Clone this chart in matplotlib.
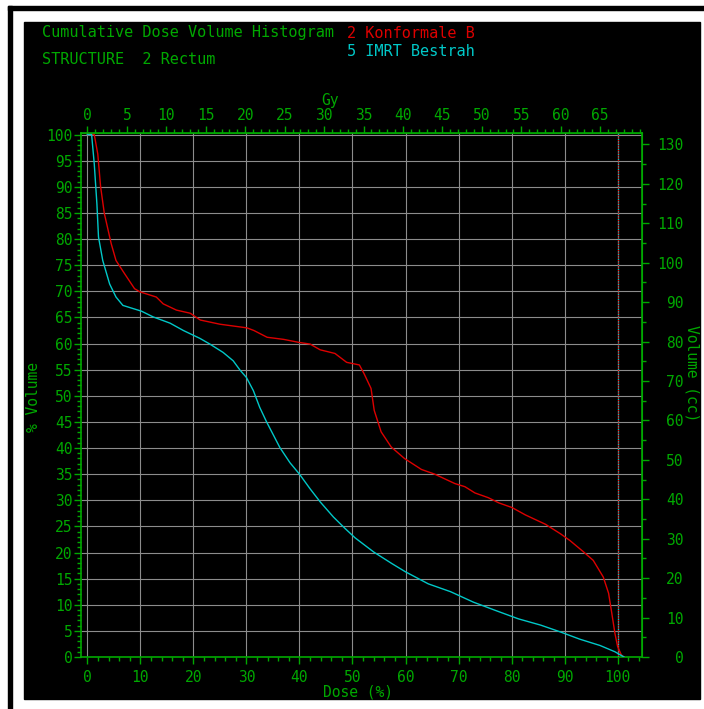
import numpy as np
import matplotlib
matplotlib.use("Agg")
import matplotlib.pyplot as plt
from matplotlib.patches import Rectangle
from matplotlib.ticker import MultipleLocator

plt.rcParams['font.family'] = ['DejaVu Sans Mono']

# Konformale B (red) - dose in %, volume in %
conf_dose = [0, 1.3, 1.96, 2.5, 3.2, 4.5, 5.4, 7.0, 8.9, 9.9, 13.0, 14.3, 16.8, 19.4,
             21.3, 25.0, 30.1, 31.4, 33.9, 37.0, 40.0, 42.0, 43.9, 46.7, 48.9, 51.3,
             52.2, 53.5, 54.1, 55.4, 57.3, 59.8, 63.0, 65.5, 69.3, 71.2, 73.1, 75.6,
             77.6, 80.1, 82.6, 86.4, 89.2, 91.0, 93.6, 95.4, 97.3, 98.3, 98.9, 99.5,
             100.0, 100.7, 101.2]
conf_vol = [100, 100, 96.3, 90.0, 84.9, 79.1, 75.9, 73.4, 70.5, 69.9, 68.9, 67.6, 66.4,
            65.8, 64.5, 63.7, 63.0, 62.5, 61.2, 60.8, 60.2, 59.9, 58.8, 58.1, 56.4,
            55.9, 54.2, 51.4, 47.2, 43.1, 40.2, 38.0, 35.9, 35.0, 33.2, 32.6, 31.4,
            30.5, 29.5, 28.6, 27.2, 25.4, 23.6, 22.3, 20.1, 18.5, 15.3, 12.2, 8.4,
            4.5, 2.0, 0.4, 0]

# IMRT Bestrah (cyan)
imrt_dose = [0, 0.8, 1.3, 1.8, 2.1, 2.9, 4.2, 5.4, 6.7, 8.6, 10.2, 12.4, 15.6, 18.1,
             21.2, 23.1, 25.6, 27.5, 28.8, 30.0, 31.3, 32.5, 33.8, 36.3, 38.2, 40.0,
             42.0, 43.9, 46.4, 48.6, 50.5, 54.0, 57.4, 60.0, 64.3, 68.5, 72.8, 77.0,
             81.3, 85.5, 89.2, 92.9, 96.7, 99.5, 101.2]
imrt_vol = [100, 100, 94.4, 86.7, 80.4, 75.9, 71.4, 68.9, 67.3, 66.7, 66.2, 65.1, 63.9,
            62.5, 61.0, 59.9, 58.3, 56.7, 54.9, 53.5, 51.0, 47.8, 45.0, 40.1, 37.2,
            35.0, 32.2, 29.7, 26.8, 24.6, 22.8, 20.1, 17.9, 16.3, 14.0, 12.5, 10.5,
            8.9, 7.3, 6.1, 4.8, 3.4, 2.2, 1.0, 0]

GY_PER_PCT = 0.672   # 100 % = 67.2 Gy
CC_PER_PCT = 1.325   # 100 % = 132.5 cc

GREEN = '#00a800'
RED = '#dd0000'
CYAN = '#00c8c8'
GRID = '#8c8c8c'
TICK_FS = 10.5

W, H = 704, 709
fig = plt.figure(figsize=(W / 100, H / 100), dpi=100, facecolor='white')

# black panel + border like the screenshot
fig.patches.append(Rectangle((24 / W, 1 - 699 / H), 676 / W, 677 / H,
                             transform=fig.transFigure, color='black', zorder=-5))
fig.patches.append(Rectangle((8 / W, 1 - 10 / H), 696 / W, 4 / H,
                             transform=fig.transFigure, color='black', zorder=-5))
fig.patches.append(Rectangle((8 / W, 0), 4 / W, 1 - 6 / H,
                             transform=fig.transFigure, color='black', zorder=-5))

ax = fig.add_axes([81 / W, 1 - 657 / H, (642 - 81) / W, (657 - 133) / H])
ax.set_facecolor('black')
ax.set_xlim(-1.2, 104.6)
ax.set_ylim(0, 100.3)

ax.plot(conf_dose, conf_vol, color=RED, lw=1.0, zorder=4)
ax.plot(imrt_dose, imrt_vol, color=CYAN, lw=1.0, zorder=4)

# prescription line at 100 %
ax.axvline(100, color=CYAN, lw=0.9, ls=(0, (1, 1)), zorder=3)
ax.axvline(100, color=RED, lw=0.9, ls=(1, (1, 1)), zorder=3)

ax.set_xticks(np.arange(0, 101, 10))
ax.set_yticks(np.arange(0, 101, 5))
ax.xaxis.set_minor_locator(MultipleLocator(2))
ax.yaxis.set_minor_locator(MultipleLocator(1))
ax.grid(True, which='major', color=GRID, lw=0.8)
ax.set_axisbelow(True)

for s in ax.spines.values():
    s.set_color(GREEN)
    s.set_linewidth(1.2)

ax.tick_params(which='major', colors=GREEN, labelcolor=GREEN, labelsize=TICK_FS,
               length=5, width=1, direction='out')
ax.tick_params(which='minor', colors=GREEN, length=3, width=1, direction='out')
ax.tick_params(axis='x', pad=4)
ax.tick_params(axis='y', pad=1)

# top axis in Gy
top = ax.secondary_xaxis('top', functions=(lambda d: d * GY_PER_PCT,
                                           lambda g: g / GY_PER_PCT))
top.set_xticks(np.arange(0, 66, 5))
top.xaxis.set_minor_locator(MultipleLocator(1))
top.spines['top'].set_color(GREEN)
top.tick_params(which='major', colors=GREEN, labelcolor=GREEN, labelsize=TICK_FS,
                length=5, width=1, pad=2)
top.tick_params(which='minor', colors=GREEN, length=3, width=1)

# right axis in cc
right = ax.secondary_yaxis('right', functions=(lambda v: v * CC_PER_PCT,
                                               lambda c: c / CC_PER_PCT))
right.set_yticks(np.arange(0, 131, 10))
right.yaxis.set_minor_locator(MultipleLocator(5))
right.spines['right'].set_color(GREEN)
right.tick_params(which='major', colors=GREEN, labelcolor=GREEN, labelsize=TICK_FS,
                  length=5, width=1, pad=25)
right.tick_params(which='minor', colors=GREEN, length=3, width=1)
plt.setp(right.get_yticklabels(), ha='right')

# axis titles
fig.text(330 / W, 1 - 101 / H, 'Gy', color=GREEN, fontsize=TICK_FS, ha='center', va='center')
fig.text(358 / W, 1 - 692 / H, 'Dose (%)', color=GREEN, fontsize=TICK_FS, ha='center', va='center')
fig.text(34 / W, 1 - 397 / H, '% Volume', color=GREEN, fontsize=TICK_FS, ha='center',
         va='center', rotation=90)
fig.text(692 / W, 1 - 373 / H, 'Volume (cc)', color=GREEN, fontsize=TICK_FS, ha='center',
         va='center', rotation=270)

# header
fig.text(42 / W, 1 - 33 / H, 'Cumulative Dose Volume Histogram', color=GREEN,
         fontsize=11, ha='left', va='center')
fig.text(347 / W, 1 - 33 / H, '2 Konformale B', color=RED, fontsize=11,
         ha='left', va='center')
fig.text(347 / W, 1 - 51 / H, '5 IMRT Bestrah', color=CYAN, fontsize=11,
         ha='left', va='center')
fig.text(42 / W, 1 - 60 / H, 'STRUCTURE  2 Rectum', color=GREEN, fontsize=11,
         ha='left', va='center')

fig.savefig('out.png', dpi=100, facecolor='white')
